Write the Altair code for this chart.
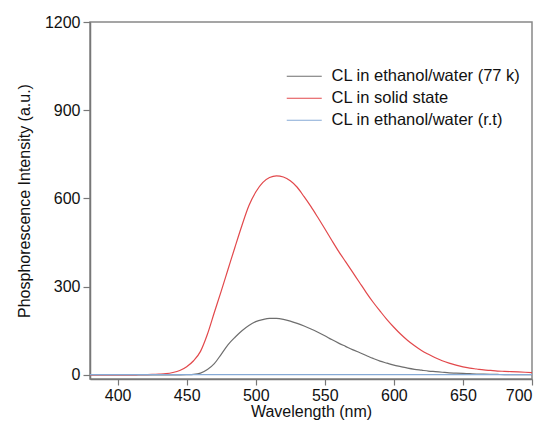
import altair as alt
import pandas as pd

wavelength = [380, 385, 390, 395, 400, 405, 410, 415, 420, 425, 430, 435, 440, 445, 450,
              455, 460, 465, 470, 475, 480, 485, 490, 495, 500, 505, 510, 515, 520, 525,
              530, 535, 540, 545, 550, 555, 560, 565, 570, 575, 580, 585, 590, 595, 600,
              605, 610, 615, 620, 625, 630, 635, 640, 645, 650, 655, 660, 665, 670, 675,
              680, 685, 690, 695, 700]

solid = [0, 0, 0, 0, 0, 0, 0, 0.5, 1, 1.5, 2.5, 4, 8, 15, 28,
         48, 80, 138, 212, 285, 360, 435, 508, 575, 622, 654, 671, 677, 673, 660,
         638, 606, 572, 535, 497, 458, 420, 385, 350, 315, 280, 247, 217, 188, 162,
         138, 117, 99, 83, 70, 58, 48, 40, 33, 27, 23, 20, 17, 15, 13,
         12, 11, 10, 9, 8]

ethanol_77k = [0, 0, 0, 0, 0, 0, 0, 0, 0, 0, 0, 0, 0, 0, 0.5,
               1.5, 6, 18, 38, 70, 103, 128, 150, 168, 181, 188, 192, 192, 189, 183,
               175, 166, 156, 145, 133, 120, 108, 97, 86, 76, 66, 56, 47, 40, 33,
               28, 23, 19, 16, 13, 11, 9, 7, 6, 5, 4, 3, 2.5, 2, 1.5,
               1, 1, 0.5, 0.5, 0.5]

ethanol_rt = [1] * len(wavelength)

series_names = ["CL in ethanol/water (77 k)", "CL in solid state", "CL in ethanol/water (r.t)"]
series_colors = ["#6e6e6e", "#e2484b", "#86aad6"]

rows = []
for name, vals in zip(series_names, [ethanol_77k, solid, ethanol_rt]):
    for w, v in zip(wavelength, vals):
        rows.append({"Wavelength": w, "Intensity": v, "Series": name})
df = pd.DataFrame(rows)

font = "Liberation Sans"

chart = alt.Chart(df).mark_line(strokeWidth=1.2, interpolate="monotone").encode(
    x=alt.X("Wavelength:Q",
            scale=alt.Scale(domain=[380, 700], nice=False, zero=False),
            axis=alt.Axis(title="Wavelength (nm)", values=[400, 450, 500, 550, 600, 650, 700],
                          grid=False, tickSize=6, labelPadding=2, titlePadding=0)),
    y=alt.Y("Intensity:Q",
            scale=alt.Scale(domain=[-14, 1200], nice=False, zero=False),
            axis=alt.Axis(title="Phosphorescence Intensity (a.u.)", values=[0, 300, 600, 900, 1200],
                          format="d", grid=False, tickSize=7, labelPadding=3, titlePadding=12)),
    color=alt.Color("Series:N",
                    scale=alt.Scale(domain=series_names, range=series_colors),
                    legend=alt.Legend(title=None, orient="none", legendX=206, legendY=46,
                                      symbolType="M-3.5,0H3.5", symbolSize=100, symbolStrokeWidth=1.2,
                                      symbolFillColor="transparent",
                                      labelFontSize=16.5, labelFont=font, labelColor="#111",
                                      labelLimit=400, rowPadding=5, labelOffset=19)),
    order=alt.Order("Wavelength:Q"),
).properties(
    width=442, height=357,
    background="white",
    autosize=alt.AutoSizeParams(type="none"),
    padding={"left": 90, "top": 22, "right": 16, "bottom": 44},
).configure_axis(
    labelFont=font, titleFont=font, labelFontSize=16, titleFontSize=16,
    labelColor="#111", titleColor="#111", titleFontWeight="normal",
    domainColor="#777", domainWidth=1.5, tickColor="#777", tickWidth=1.2,
).configure_view(
    stroke="#888", strokeWidth=1.5,
)

chart.save("out.html", embed_options={"renderer": "svg", "actions": False})
